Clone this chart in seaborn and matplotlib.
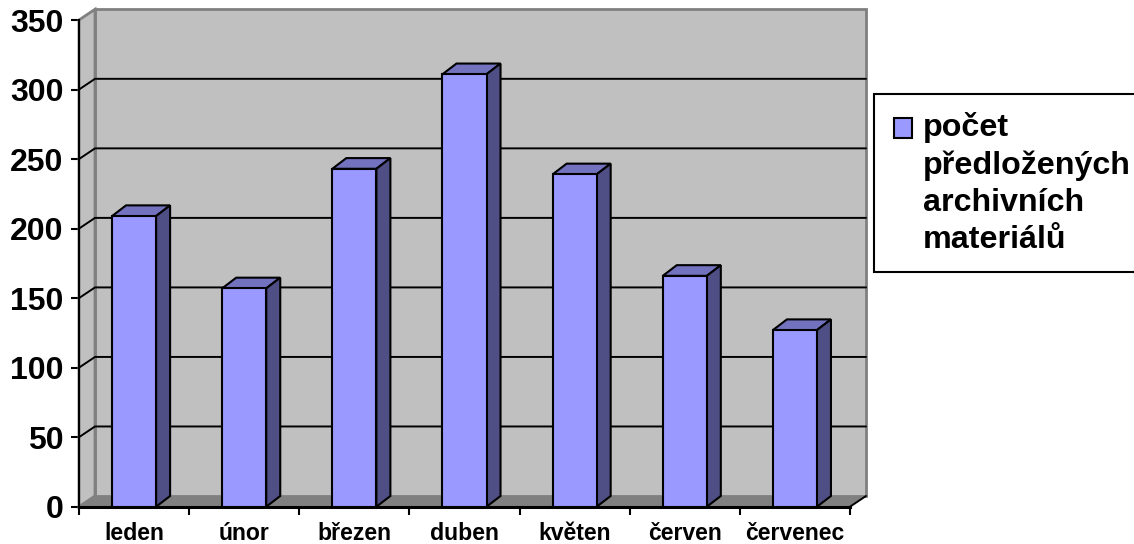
import matplotlib
matplotlib.use('Agg')
import matplotlib.pyplot as plt
import seaborn as sns
import pandas as pd
from matplotlib.patches import Polygon, Patch, Rectangle
from matplotlib.legend_handler import HandlerPatch

# data
months = ['leden', 'únor', 'březen', 'duben', 'květen', 'červen', 'červenec']
counts = [209, 157, 243, 311, 239, 166, 127]
y_ticks = [0, 50, 100, 150, 200, 250, 300, 350]
legend_label = 'počet\npředložených\narchivních\nmateriálů'

df = pd.DataFrame({'month': months, 'count': counts})

sns.set_style('white')
plt.rcParams['font.family'] = ['Liberation Sans', 'DejaVu Sans']
plt.rcParams['font.weight'] = 'bold'
plt.rcParams['text.color'] = 'black'

W, H = 1134, 544
fig = plt.figure(figsize=(W / 100, H / 100), dpi=100)

# front plane of the fake 3d box, in pixels
left, right, top, bottom = 79, 850, 20, 506.7
ax = fig.add_axes([left / W, 1 - bottom / H, (right - left) / W, (bottom - top) / H])
ax.patch.set_alpha(0)

bar_color = '#9999FF'
sns.barplot(data=df, x='month', y='count', order=months, color=bar_color, saturation=1,
            width=0.4, edgecolor='black', linewidth=1.5, ax=ax, zorder=3)
ax.set_xlim(-0.5, len(months) - 0.5)
ax.set_ylim(0, 350)
ax.set_xlabel('')
ax.set_ylabel('')

# depth offsets, pixels to data units
px_x = (len(months)) / (right - left)
px_y = 350 / (bottom - top)
wall_dx, wall_dy = 16 * px_x, 10.7 * px_y
bar_dx, bar_dy = 14 * px_x, 10.7 * px_y

x0, x1 = -0.5, len(months) - 0.5
y1 = 350
wall = '#C0C0C0'
edge = '#808080'

# back wall, side wall, floor
ax.add_patch(Polygon([(x0 + wall_dx, wall_dy), (x1 + wall_dx, wall_dy), (x1 + wall_dx, y1 + wall_dy),
                      (x0 + wall_dx, y1 + wall_dy)], fc=wall, ec=edge, lw=2, clip_on=False, zorder=0.5))
ax.add_patch(Polygon([(x0, 0), (x0 + wall_dx, wall_dy), (x0 + wall_dx, y1 + wall_dy), (x0, y1)],
                     fc=wall, ec=edge, lw=2, clip_on=False, zorder=0.6))
ax.add_patch(Polygon([(x0, 0), (x0 + wall_dx, wall_dy), (x1 + wall_dx, wall_dy), (x1, 0)],
                     fc=edge, ec='none', clip_on=False, zorder=0.7))
ax.plot([x1, x1 + wall_dx], [0, wall_dy], color='black', lw=1.4, clip_on=False, zorder=0.8)

# gridlines on the walls
for t in y_ticks[1:-1]:
    ax.plot([x0, x0 + wall_dx, x1 + wall_dx], [t, t + wall_dy, t + wall_dy],
            color='black', lw=1.4, clip_on=False, zorder=0.8)

# top and side of every bar, taken from the bars seaborn drew
for bar in ax.containers[0]:
    xa = bar.get_x()
    xb = xa + bar.get_width()
    h = bar.get_height()
    ax.add_patch(Polygon([(xa, h), (xa + bar_dx, h + bar_dy), (xb + bar_dx, h + bar_dy), (xb, h)],
                         fc='#7272BF', ec='black', lw=1.5, clip_on=False, zorder=2.8))
    ax.add_patch(Polygon([(xb, 0), (xb + bar_dx, bar_dy), (xb + bar_dx, h + bar_dy), (xb, h)],
                         fc='#4F4F85', ec='black', lw=1.5, clip_on=False, zorder=2.8))

# axes
sns.despine(ax=ax, top=True, right=True)
ax.spines['left'].set_linewidth(1.5)
ax.spines['left'].set_color('black')
ax.spines['bottom'].set_linewidth(2.2)
ax.spines['bottom'].set_color('black')
ax.set_yticks(y_ticks)
ax.tick_params(axis='y', left=True, length=5.8, width=1.5, pad=5.5, labelsize=23, colors='black')
ax.set_xticks(range(len(months)), months)
ax.set_xticks([i - 0.5 for i in range(len(months) + 1)], minor=True)
ax.tick_params(axis='x', which='major', bottom=False, length=0, pad=11, labelsize=16.6, colors='black')
ax.tick_params(axis='x', which='minor', bottom=True, length=6, width=1.5, colors='black')


def top_key(legend, orig_handle, xdescent, ydescent, width, height, fontsize):
    # key sits next to the first line of the label
    return Rectangle((-xdescent + 1.7, -ydescent + 40), width - 1.7, height)


handle = Patch(facecolor=bar_color, edgecolor='black', linewidth=1.5)
leg = ax.legend([handle], [legend_label], loc='upper left',
                bbox_to_anchor=(874 / W, 1 - 94 / H), bbox_transform=fig.transFigure,
                fontsize=23.2, frameon=True, fancybox=False, framealpha=1, edgecolor='black',
                borderaxespad=0, borderpad=0.55, handlelength=0.63, handleheight=0.56,
                handletextpad=0.33,
                handler_map={Patch: HandlerPatch(patch_func=top_key)})
leg.get_frame().set_linewidth(1.5)
leg.get_texts()[0].set_linespacing(1.31)
leg.get_texts()[0].set_color('black')

fig.savefig('out.png', dpi=100)
